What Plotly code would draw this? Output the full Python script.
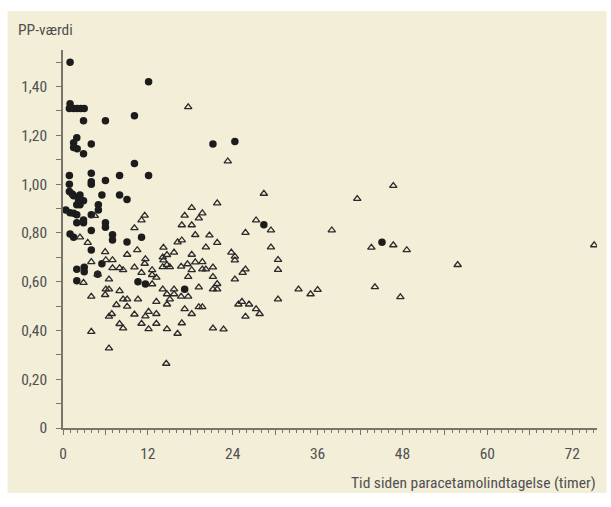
import plotly.graph_objects as go

# Filled circles (h, value)
dot_h = [1.0, 1.0, 0.9, 1.5, 2.0, 2.5, 3.0, 12.1, 10.1, 2.9, 6.0,
         1.95, 1.5, 1.5, 2.0, 4.0, 2.9, 21.2, 24.3, 10.1,
         0.9, 0.9, 4.0, 4.0, 4.0, 6.0, 8.0, 12.1,
         0.9, 1.3, 1.5, 2.4, 5.5, 8.0, 9.05,
         2.2, 2.9, 2.4, 1.95, 0.4, 1.0, 1.5, 1.95,
         5.0, 5.0, 4.0, 1.95, 2.9, 2.9, 6.0, 6.0, 4.0,
         1.0, 1.5, 7.0, 7.0, 9.05, 11.1, 4.0, 28.4,
         3.0, 3.0, 1.95, 1.95, 5.5, 4.9, 10.6, 11.65, 17.2, 45.1]
dot_v = [1.50, 1.33, 1.31, 1.31, 1.31, 1.31, 1.31, 1.42, 1.28, 1.26, 1.26,
         1.19, 1.17, 1.15, 1.145, 1.165, 1.125, 1.165, 1.175, 1.085,
         1.035, 1.00, 1.045, 1.01, 1.00, 1.015, 1.035, 1.035,
         0.97, 0.96, 0.952, 0.955, 0.955, 0.955, 0.937,
         0.935, 0.932, 0.915, 0.915, 0.894, 0.883, 0.881, 0.874,
         0.915, 0.894, 0.874, 0.842, 0.842, 0.853, 0.842, 0.823, 0.81,
         0.795, 0.782, 0.792, 0.771, 0.763, 0.782, 0.73, 0.833,
         0.659, 0.641, 0.651, 0.604, 0.673, 0.63, 0.60, 0.59, 0.569, 0.762]

# Open triangles (h, value)
tri_h = [17.7, 23.3, 28.4, 21.8, 18.2, 17.2, 19.7, 19.2, 16.8, 18.2,
         27.3, 29.4, 25.8, 18.7, 20.7, 16.8, 21.8, 20.2, 29.4, 23.8,
         24.3, 24.3, 30.4, 18.2, 18.7, 19.7, 16.7, 17.6, 18.2, 19.7,
         20.2, 21.2, 25.8, 25.4, 30.4, 17.7, 21.2, 24.3, 21.8, 21.2,
         21.8, 19.2, 16.7, 17.7, 33.3, 30.4, 25.3, 24.8, 26.3, 17.2,
         19.2, 19.7, 27.3, 27.8, 18.2, 25.8, 16.8, 21.2, 22.7,
         11.55, 11.1, 10.1, 16.2, 10.5, 14.2, 15.7, 14.7, 14.1, 14.2,
         11.65, 11.55, 14.1, 14.7, 15.1, 11.1, 12.6, 12.6, 13.2, 12.6,
         10.6, 14.1, 14.7, 15.1, 14.7, 15.7, 15.7, 13.2, 12.1, 11.65,
         13.2, 11.1, 12.1, 13.2, 14.7, 16.2, 14.6,
         4.5, 2.4, 3.5, 5.96, 7.0, 6.05, 4.0, 9.07, 7.0, 8.0,
         8.5, 10.1, 2.9, 6.5, 6.05, 6.5, 5.96, 8.0, 8.5, 9.07,
         4.0, 7.55, 9.07, 6.9, 6.5, 10.1, 8.0, 8.5, 4.0, 6.5, 4.9,
         41.6, 46.7, 38.0, 43.6, 46.7, 48.6, 75.1, 55.8, 35.0, 36.0,
         44.1, 47.7]
tri_v = [1.316, 1.094, 0.961, 0.922, 0.903, 0.871, 0.881, 0.86, 0.832, 0.832,
         0.852, 0.811, 0.801, 0.792, 0.79, 0.77, 0.76, 0.741, 0.741, 0.72,
         0.703, 0.688, 0.69, 0.711, 0.68, 0.681, 0.662, 0.672, 0.648, 0.651,
         0.651, 0.659, 0.651, 0.637, 0.649, 0.62, 0.62, 0.61, 0.591, 0.569,
         0.569, 0.577, 0.539, 0.539, 0.569, 0.528, 0.518, 0.507, 0.507, 0.488,
         0.496, 0.496, 0.488, 0.468, 0.468, 0.457, 0.43, 0.409, 0.405,
         0.871, 0.852, 0.82, 0.762, 0.73, 0.74, 0.72, 0.71, 0.70, 0.688,
         0.693, 0.674, 0.66, 0.669, 0.66, 0.637, 0.648, 0.628, 0.617, 0.59,
         0.528, 0.569, 0.549, 0.528, 0.507, 0.569, 0.549, 0.518, 0.477, 0.458,
         0.468, 0.428, 0.406, 0.428, 0.406, 0.387, 0.264,
         0.87, 0.782, 0.76, 0.722, 0.689, 0.689, 0.681, 0.711, 0.656, 0.656,
         0.648, 0.659, 0.596, 0.61, 0.569, 0.569, 0.546, 0.562, 0.528, 0.528,
         0.539, 0.505, 0.498, 0.468, 0.457, 0.466, 0.427, 0.409, 0.395, 0.327, 0.63,
         0.94, 0.993, 0.811, 0.74, 0.75, 0.73, 0.75, 0.669, 0.549, 0.567,
         0.578, 0.537]

x_tickvals = [0, 6, 12, 18, 24, 30, 36, 42, 48, 54, 60, 66, 72]
x_ticktext = ["0", "", "12", "", "24", "", "36", "", "48", "", "60", "", "72"]
y_tickvals = [0, 0.1, 0.2, 0.3, 0.4, 0.5, 0.6, 0.7, 0.8, 0.9, 1.0, 1.1, 1.2, 1.3, 1.4, 1.5]
y_ticktext = ["0", "", "0,20", "", "0,40", "", "0,60", "", "0,80", "", "1,00", "", "1,20", "", "1,40", ""]

BG = "#f2eed8"
AX = "#77756c"
TXT = "#505050"
FONT = "Liberation Sans Narrow, Roboto Condensed, Arial Narrow, Roboto, sans-serif"
FS = 15.5

fig = go.Figure()
fig.add_trace(go.Scatter(x=dot_h, y=dot_v, mode="markers",
                         marker=dict(symbol="circle", size=7.5, color="#1c1c1c"),
                         showlegend=False, hoverinfo="skip"))
fig.add_trace(go.Scatter(x=tri_h, y=tri_v, mode="markers",
                         marker=dict(symbol="triangle-up-open", size=6.5, color="#2a2a2a",
                                     line=dict(width=1.3)),
                         showlegend=False, hoverinfo="skip"))

W, H = 611, 507
L, T = 62.5, 50
PW, PH = 535, 378
fig.update_layout(
    width=W, height=H,
    margin=dict(l=L, r=W - L - PW, t=T, b=H - T - PH, pad=0),
    paper_bgcolor="white",
    plot_bgcolor="rgba(0,0,0,0)",
    font=dict(family=FONT, size=FS, color=TXT),
    xaxis=dict(range=[0, 75.5], showgrid=False, zeroline=False,
               showline=True, linecolor=AX, linewidth=1.5,
               tickmode="array", tickvals=x_tickvals, ticktext=x_ticktext,
               ticks="outside", ticklen=5, tickwidth=1, tickcolor=AX,
               ticklabelstandoff=6,
               minor=dict(dtick=1, tick0=0, ticks="outside", ticklen=3,
                          tickwidth=1, tickcolor=AX),
               tickfont=dict(size=FS, color=TXT)),
    yaxis=dict(range=[0, 1.55], showgrid=False, zeroline=False,
               showline=True, linecolor=AX, linewidth=1.5,
               tickmode="array", tickvals=y_tickvals, ticktext=y_ticktext,
               ticks="outside", ticklen=5, tickwidth=1, tickcolor=AX,
               ticklabelstandoff=6,
               tickfont=dict(size=FS, color=TXT)),
)

# beige panel behind everything
fig.add_shape(type="rect", xref="paper", yref="paper",
              x0=(7 - L) / PW, x1=(607 - L) / PW,
              y0=1 - (493 - T) / PH, y1=1 - (11 - T) / PH,
              fillcolor=BG, line=dict(width=0), layer="below")

fig.add_annotation(text="PP-værdi", xref="paper", yref="paper",
                   x=(15 - L) / PW, y=1 - (30 - T) / PH,
                   xanchor="left", yanchor="middle", showarrow=False,
                   font=dict(size=FS, color=TXT, family=FONT))
fig.add_annotation(text="Tid siden paracetamolindtagelse (timer)", xref="paper", yref="paper",
                   x=(599 - L) / PW, y=1 - (483 - T) / PH,
                   xanchor="right", yanchor="middle", showarrow=False,
                   font=dict(size=FS, color=TXT, family=FONT))

fig.write_html("out.html")
